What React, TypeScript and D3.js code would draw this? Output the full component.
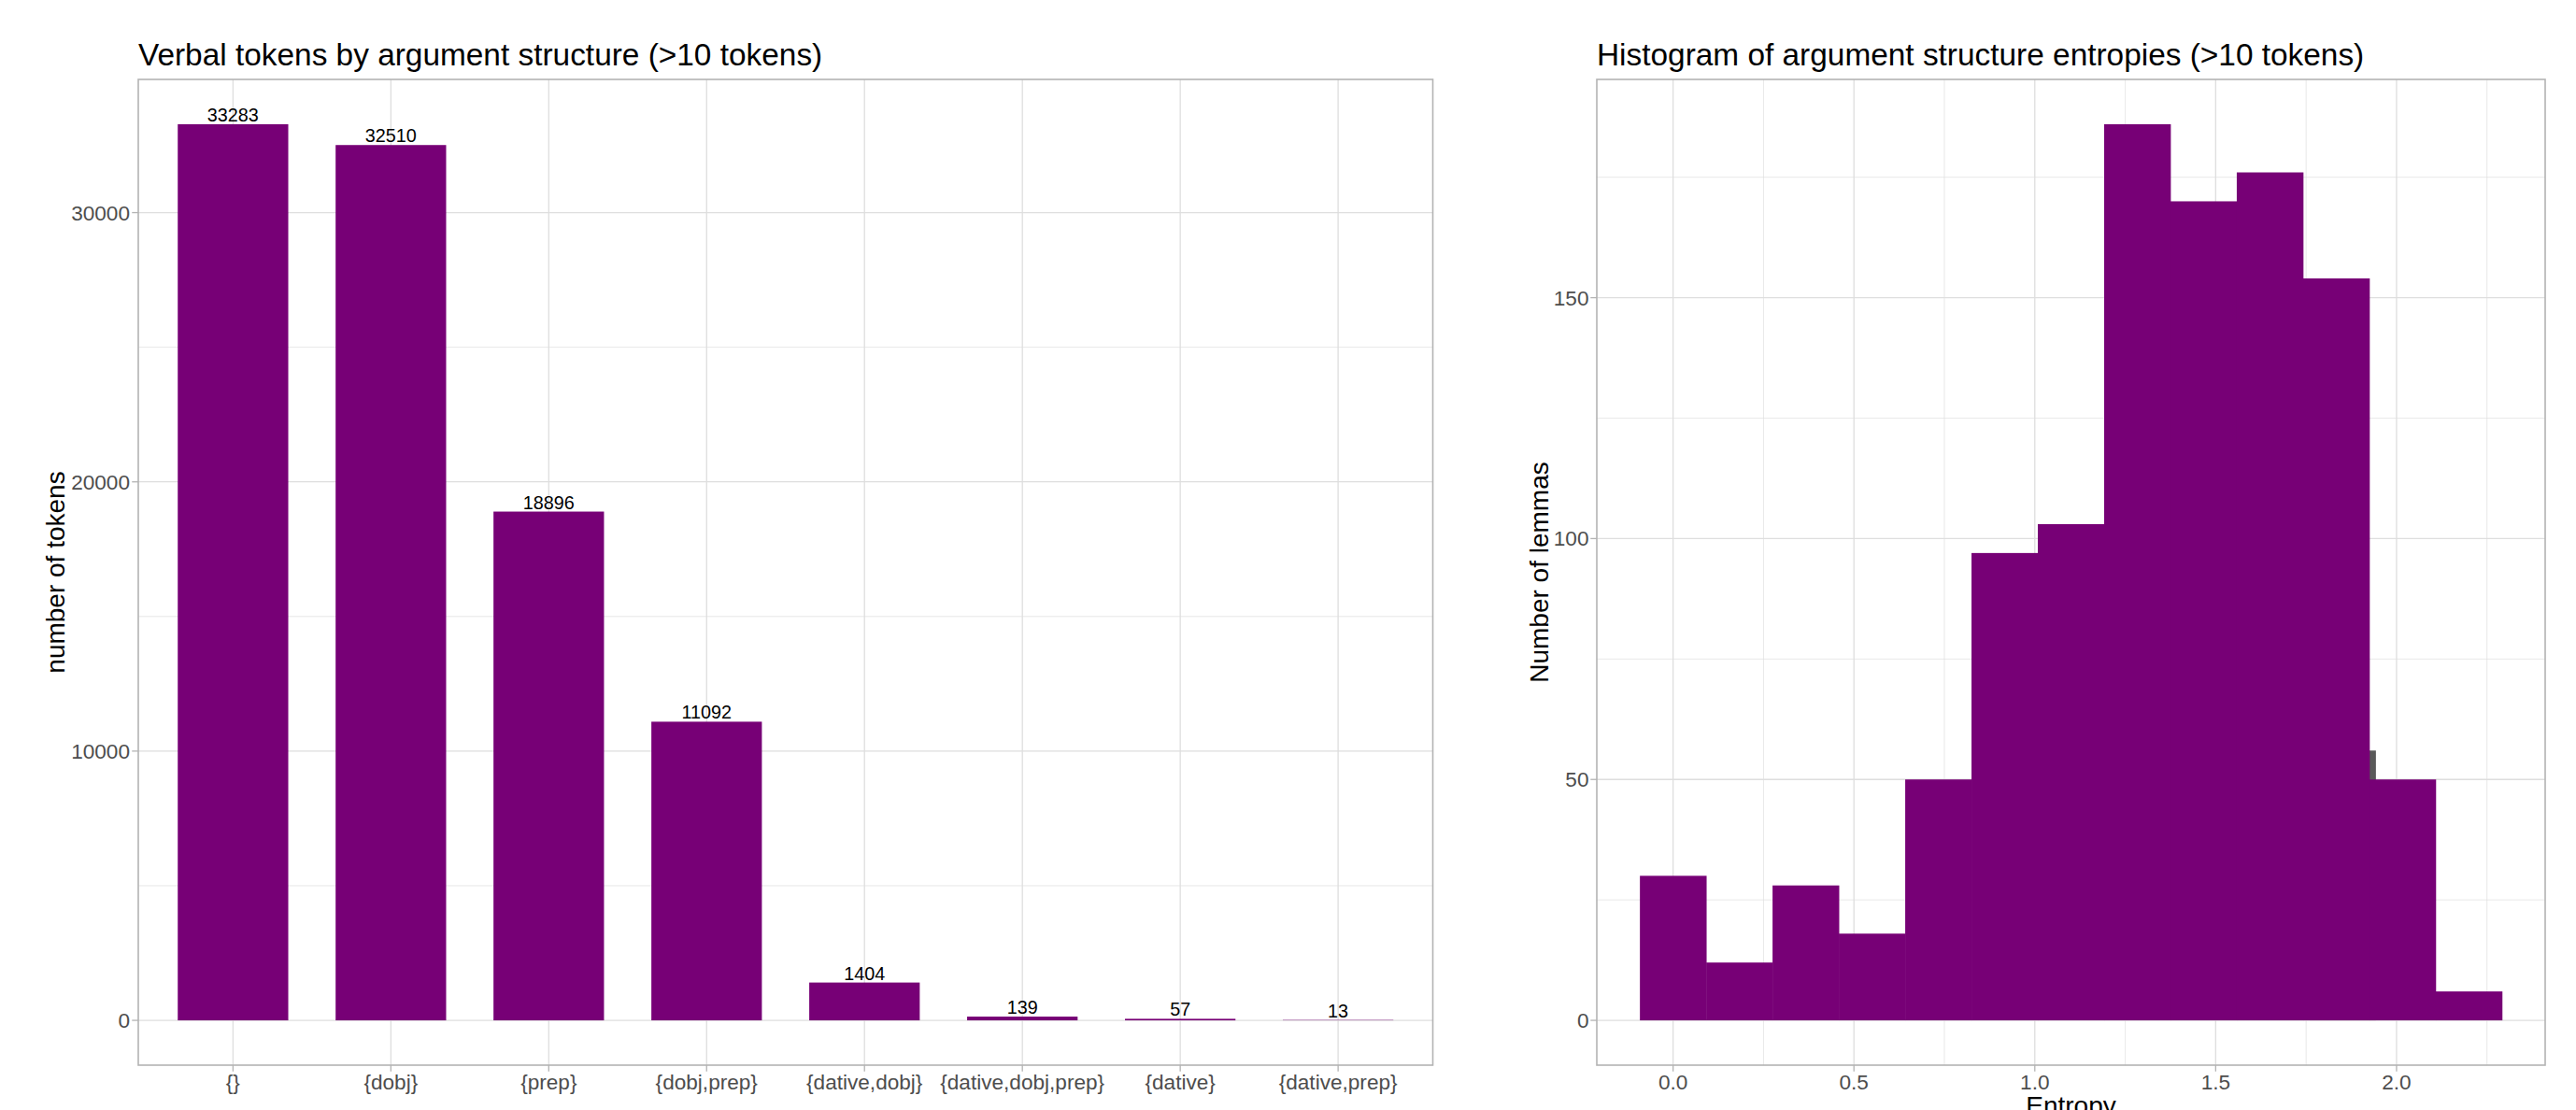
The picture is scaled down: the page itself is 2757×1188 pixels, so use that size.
import React, { useEffect } from "react";
import * as d3 from "d3";

// ---------- data ----------
const categories = ["{}", "{dobj}", "{prep}", "{dobj,prep}", "{dative,dobj}", "{dative,dobj,prep}", "{dative}", "{dative,prep}"];
const tokenCounts = [33283, 32510, 18896, 11092, 1404, 139, 57, 13];
const tokenTicks = [0, 10000, 20000, 30000];
const tokenMinorTicks = [5000, 15000, 25000];

const binStarts = [-0.0917, 0.0917, 0.275, 0.4583, 0.6417, 0.825, 1.0083, 1.1917, 1.375, 1.5583, 1.7417, 1.925, 2.1083];
const binEnds = [0.0917, 0.275, 0.4583, 0.6417, 0.825, 1.0083, 1.1917, 1.375, 1.5583, 1.7417, 1.925, 2.1083, 2.2917];
const binCounts = [30, 12, 28, 18, 50, 97, 103, 186, 170, 176, 154, 50, 6];
// partly hidden grey layer peeking out behind the purple histogram
const greyBinStarts = [1.76];
const greyBinEnds = [1.943];
const greyBinCounts = [56];
const entropyTicks = [0, 0.5, 1.0, 1.5, 2.0];
const entropyMinorTicks = [0.25, 0.75, 1.25, 1.75, 2.25];
const lemmaTicks = [0, 50, 100, 150];
const lemmaMinorTicks = [25, 75, 125, 175];

const leftTitle = "Verbal tokens by argument structure (>10 tokens)";
const rightTitle = "Histogram of argument structure entropies (>10 tokens)";
const leftYTitle = "number of tokens";
const rightYTitle = "Number of lemmas";
const rightXTitle = "Entropy";

// ---------- style ----------
const W = 2757;
const H = 1188;
const FONT = "'Liberation Sans', Arial, Helvetica, sans-serif";
const FILL = "#770076";
const GRID = "#DEDEDE";
const BORDER = "#B3B3B3";
const TICKTXT = "#4D4D4D";
const TICK_FS = 22.6;
const TITLE_FS = 33.4;
const AXTITLE_FS = 28;
const LABEL_FS = 19.8;

const top = 85;
const bottom = 1140;
const L = { x0: 148, x1: 1533.5 };
const R = { x0: 1709, x1: 2724 };

export default function App() {
  useEffect(() => {
    document.body.style.margin = "0";
  }, []);

  // left scales
  const maxTok = d3.max(tokenCounts) as number;
  const yL = d3.scaleLinear().domain([-0.05 * maxTok, 1.05 * maxTok]).range([bottom, top]);
  const xL = d3.scalePoint<string>().domain(categories).range([L.x0, L.x1]).padding(0.6);
  const bw = xL.step() * 0.7;

  // right scales
  const lo = d3.min(binStarts) as number;
  const hi = d3.max(binEnds) as number;
  const pad = (hi - lo) * 0.05;
  const xR = d3.scaleLinear().domain([lo - pad, hi + pad]).range([R.x0, R.x1]);
  const maxBin = d3.max(binCounts) as number;
  const yR = d3.scaleLinear().domain([-0.05 * maxBin, 1.05 * maxBin]).range([bottom, top]);

  const tickLen = 6.75;
  const tickDy = TICK_FS * 0.357;

  return (
    <svg width={W} height={H} style={{ display: "block", position: "absolute", left: 0, top: 0, background: "#fff" }} fontFamily={FONT}>
      <rect x={0} y={0} width={W} height={H} fill="#fff" />

      {/* ---------- LEFT PANEL ---------- */}
      <g>
        {tokenMinorTicks.map((t) => (
          <line key={"lm" + t} x1={L.x0} x2={L.x1} y1={yL(t)} y2={yL(t)} stroke={GRID} strokeWidth={0.7} />
        ))}
        {tokenTicks.map((t) => (
          <line key={"lg" + t} x1={L.x0} x2={L.x1} y1={yL(t)} y2={yL(t)} stroke={GRID} strokeWidth={1.3} />
        ))}
        {categories.map((c) => (
          <line key={"lv" + c} x1={xL(c)} x2={xL(c)} y1={top} y2={bottom} stroke={GRID} strokeWidth={1.3} />
        ))}
        {categories.map((c, i) => (
          <rect key={"b" + c} x={(xL(c) as number) - bw / 2} width={bw} y={yL(tokenCounts[i])} height={yL(0) - yL(tokenCounts[i])} fill={FILL} />
        ))}
        {categories.map((c, i) => (
          <text key={"bl" + c} x={xL(c)} y={yL(tokenCounts[i]) - 3} textAnchor="middle" fontSize={LABEL_FS} fill="#000">
            {tokenCounts[i]}
          </text>
        ))}
        <rect x={L.x0} y={top} width={L.x1 - L.x0} height={bottom - top} fill="none" stroke={BORDER} strokeWidth={1.6} />
        {tokenTicks.map((t) => (
          <g key={"lt" + t}>
            <line x1={L.x0 - tickLen} x2={L.x0} y1={yL(t)} y2={yL(t)} stroke={BORDER} strokeWidth={1.3} />
            <text x={L.x0 - 9} y={yL(t) + tickDy} textAnchor="end" fontSize={TICK_FS} fill={TICKTXT}>
              {t}
            </text>
          </g>
        ))}
        {categories.map((c) => (
          <g key={"lx" + c}>
            <line x1={xL(c)} x2={xL(c)} y1={bottom} y2={bottom + tickLen} stroke={BORDER} strokeWidth={1.3} />
            <text x={xL(c)} y={1166} textAnchor="middle" fontSize={TICK_FS} fill={TICKTXT}>
              {c}
            </text>
          </g>
        ))}
        <text x={L.x0} y={70} fontSize={TITLE_FS} fill="#000">
          {leftTitle}
        </text>
        <text transform={`translate(69,${(top + bottom) / 2}) rotate(-90)`} textAnchor="middle" fontSize={AXTITLE_FS} fill="#000">
          {leftYTitle}
        </text>
      </g>

      {/* ---------- RIGHT PANEL ---------- */}
      <g>
        {lemmaMinorTicks.map((t) => (
          <line key={"rm" + t} x1={R.x0} x2={R.x1} y1={yR(t)} y2={yR(t)} stroke={GRID} strokeWidth={0.7} />
        ))}
        {entropyMinorTicks.map((t) => (
          <line key={"rvm" + t} x1={xR(t)} x2={xR(t)} y1={top} y2={bottom} stroke={GRID} strokeWidth={0.7} />
        ))}
        {lemmaTicks.map((t) => (
          <line key={"rg" + t} x1={R.x0} x2={R.x1} y1={yR(t)} y2={yR(t)} stroke={GRID} strokeWidth={1.3} />
        ))}
        {entropyTicks.map((t) => (
          <line key={"rv" + t} x1={xR(t)} x2={xR(t)} y1={top} y2={bottom} stroke={GRID} strokeWidth={1.3} />
        ))}
        {greyBinCounts.map((v, i) => (
          <rect key={"gb" + i} x={xR(greyBinStarts[i])} width={xR(greyBinEnds[i]) - xR(greyBinStarts[i])} y={yR(v)} height={yR(0) - yR(v)} fill="#595959" />
        ))}
        {binCounts.map((v, i) => (
          <rect key={"hb" + i} x={xR(binStarts[i])} width={xR(binEnds[i]) - xR(binStarts[i]) + 0.4} y={yR(v)} height={yR(0) - yR(v)} fill={FILL} />
        ))}
        <rect x={R.x0} y={top} width={R.x1 - R.x0} height={bottom - top} fill="none" stroke={BORDER} strokeWidth={1.6} />
        {lemmaTicks.map((t) => (
          <g key={"rt" + t}>
            <line x1={R.x0 - tickLen} x2={R.x0} y1={yR(t)} y2={yR(t)} stroke={BORDER} strokeWidth={1.3} />
            <text x={R.x0 - 8.5} y={yR(t) + tickDy} textAnchor="end" fontSize={TICK_FS} fill={TICKTXT}>
              {t}
            </text>
          </g>
        ))}
        {entropyTicks.map((t) => (
          <g key={"rx" + t}>
            <line x1={xR(t)} x2={xR(t)} y1={bottom} y2={bottom + tickLen} stroke={BORDER} strokeWidth={1.3} />
            <text x={xR(t)} y={1166} textAnchor="middle" fontSize={TICK_FS} fill={TICKTXT}>
              {d3.format(".1f")(t)}
            </text>
          </g>
        ))}
        <text x={R.x0} y={70} fontSize={TITLE_FS} fill="#000">
          {rightTitle}
        </text>
        <text transform={`translate(1656.5,${(top + bottom) / 2}) rotate(-90)`} textAnchor="middle" fontSize={AXTITLE_FS} fill="#000">
          {rightYTitle}
        </text>
        <text x={(R.x0 + R.x1) / 2} y={1193} textAnchor="middle" fontSize={AXTITLE_FS} fill="#000">
          {rightXTitle}
        </text>
      </g>
    </svg>
  );
}
